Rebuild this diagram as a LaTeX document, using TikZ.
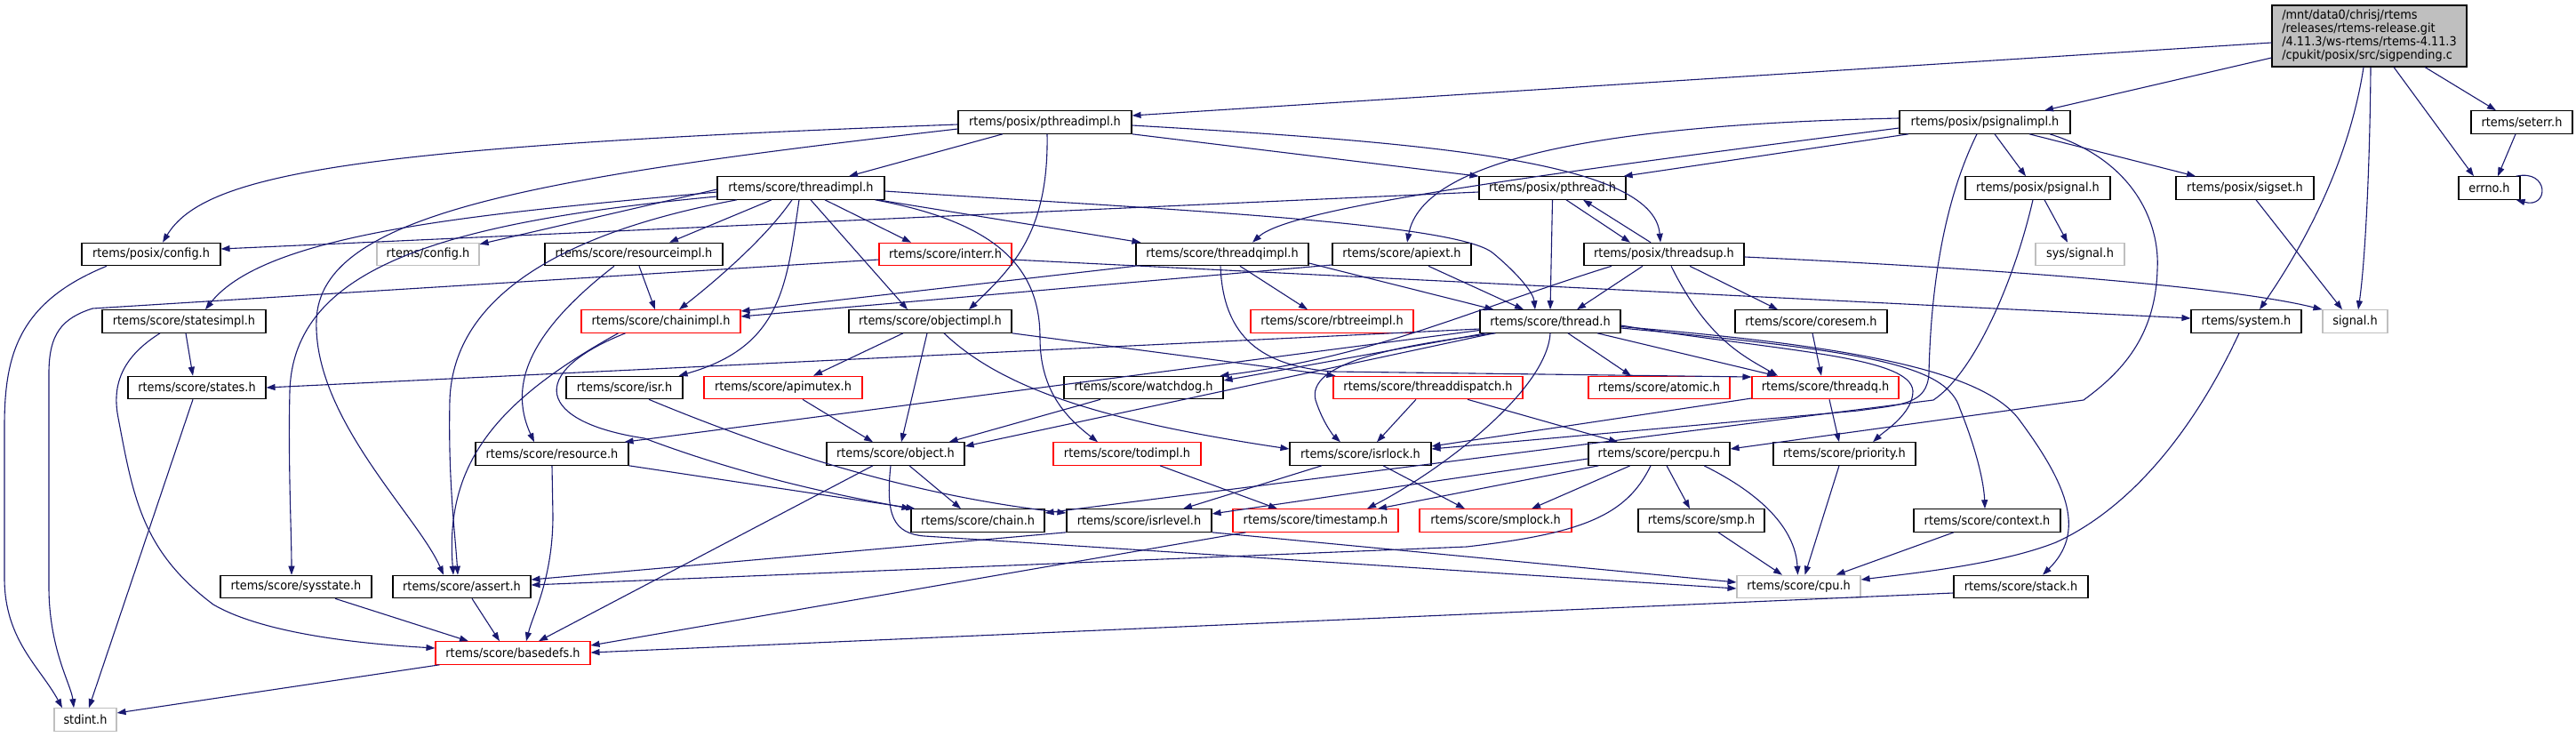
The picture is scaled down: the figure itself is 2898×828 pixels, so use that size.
\documentclass[tikz,border=0pt]{standalone}
\usepackage{fontspec}
\setmainfont{DejaVu Sans}[FakeStretch=0.92]
\usetikzlibrary{arrows.meta}
\definecolor{edgec}{HTML}{191970}
\definecolor{redc}{HTML}{FF0000}
\definecolor{grayc}{HTML}{BFBFBF}
\newcommand\nb[6]{\node[#1, minimum width=#4pt] (#2) at (#5,#6) {#3};}
\begin{document}
\begin{tikzpicture}[x=1pt,y=-1pt,
  box/.style={draw=black, line width=1.1pt, fill=white, inner sep=0pt, minimum height=25.5pt, font=\fontsize{14}{15}\selectfont, text=black},
  rbox/.style={box, draw=redc},
  gbox/.style={box, draw=grayc},
  e/.style={draw=edgec, line width=1.1pt, -{Triangle[length=10pt,width=7pt]}}]
\useasboundingbox[fill=white] (0,0) rectangle (2898,828);
% nodes
\node[box, fill=grayc, minimum width=219pt, minimum height=69pt, align=left] (main) at (2665.5,40.5) {/mnt/data0/chrisj/rtems\\/releases/rtems-release.git\\/4.11.3/ws-rtems/rtems-4.11.3\\/cpukit/posix/src/sigpending.c};
\nb{box}{pthreadimpl}{rtems/posix/pthreadimpl.h}{195}{1175.5}{137.5}
\nb{box}{psignalimpl}{rtems/posix/psignalimpl.h}{192}{2233}{137.5}
\nb{box}{seterr}{rtems/seterr.h}{114}{2837}{137.5}
\nb{box}{threadimpl}{rtems/score/threadimpl.h}{188}{901}{211.5}
\nb{box}{pthread}{rtems/posix/pthread.h}{165}{1746.5}{211.5}
\nb{box}{psignal}{rtems/posix/psignal.h}{163}{2292.5}{211.5}
\nb{box}{sigset}{rtems/posix/sigset.h}{155}{2525.5}{211.5}
\nb{box}{errno}{errno.h}{69}{2800.5}{211.5}
\nb{box}{posixconfig}{rtems/posix/config.h}{156}{170}{286}
\nb{gbox}{config}{rtems/config.h}{115}{481.5}{286}
\nb{box}{resourceimpl}{rtems/score/resourceimpl.h}{200}{713}{286}
\nb{rbox}{interr}{rtems/score/interr.h}{149}{1063.5}{286}
\nb{box}{threadqimpl}{rtems/score/threadqimpl.h}{194}{1375}{286}
\nb{box}{apiext}{rtems/score/apiext.h}{156}{1577}{286}
\nb{box}{threadsup}{rtems/posix/threadsup.h}{180}{1872}{286}
\nb{gbox}{syssignal}{sys/signal.h}{100}{2340}{286}
\nb{box}{statesimpl}{rtems/score/statesimpl.h}{184}{207}{361.5}
\nb{rbox}{chainimpl}{rtems/score/chainimpl.h}{179}{743.5}{361.5}
\nb{box}{objectimpl}{rtems/score/objectimpl.h}{183}{1046.5}{361.5}
\nb{rbox}{rbtreeimpl}{rtems/score/rbtreeimpl.h}{183}{1498.5}{361.5}
\nb{box}{thread}{rtems/score/thread.h}{158}{1744}{361.5}
\nb{box}{coresem}{rtems/score/coresem.h}{171}{2037.5}{361.5}
\nb{box}{system}{rtems/system.h}{124}{2527}{361.5}
\nb{gbox}{signal}{signal.h}{73}{2649.5}{361.5}
\nb{box}{states}{rtems/score/states.h}{155}{221.5}{436}
\nb{box}{isr}{rtems/score/isr.h}{131}{702.5}{436}
\nb{rbox}{apimutex}{rtems/score/apimutex.h}{178}{881}{436}
\nb{box}{watchdog}{rtems/score/watchdog.h}{179}{1286.5}{436}
\nb{rbox}{threaddispatch}{rtems/score/threaddispatch.h}{213}{1606.5}{436}
\nb{rbox}{atomic}{rtems/score/atomic.h}{159}{1866.5}{436}
\nb{rbox}{threadq}{rtems/score/threadq.h}{165}{2053.5}{436}
\nb{box}{resource}{rtems/score/resource.h}{172}{621}{510.5}
\nb{box}{object}{rtems/score/object.h}{155}{1007.5}{510.5}
\nb{rbox}{todimpl}{rtems/score/todimpl.h}{166}{1268}{510.5}
\nb{box}{isrlock}{rtems/score/isrlock.h}{159}{1530.5}{510.5}
\nb{box}{percpu}{rtems/score/percpu.h}{159}{1866.5}{510.5}
\nb{box}{priority}{rtems/score/priority.h}{160}{2075}{510.5}
\nb{box}{chain}{rtems/score/chain.h}{150}{1100}{585.5}
\nb{box}{isrlevel}{rtems/score/isrlevel.h}{163}{1281.5}{585.5}
\nb{rbox}{timestamp}{rtems/score/timestamp.h}{186}{1480}{585.5}
\nb{rbox}{smplock}{rtems/score/smplock.h}{171}{1682.5}{585.5}
\nb{box}{smp}{rtems/score/smp.h}{142}{1914}{585.5}
\nb{box}{context}{rtems/score/context.h}{165}{2235.5}{585.5}
\nb{box}{sysstate}{rtems/score/sysstate.h}{170}{333}{660}
\nb{box}{assert}{rtems/score/assert.h}{155}{519.5}{660}
\nb{gbox}{cpu}{rtems/score/cpu.h}{139}{2023.5}{660}
\nb{box}{stack}{rtems/score/stack.h}{151}{2273.5}{660}
\nb{rbox}{basedefs}{rtems/score/basedefs.h}{174}{577}{734.5}
\nb{gbox}{stdint}{stdint.h}{70}{96}{809.5}
% edges: main
\draw[e] ([yshift=-7.5pt]main.west) -- ([yshift=7.5pt]pthreadimpl.east);
\draw[e] ([yshift=-24.5pt]main.west) -- ([xshift=67pt]psignalimpl.north);
\draw[e] ([xshift=-6.5pt]main.south) .. controls (2640,200) and (2575,300) .. ([xshift=15pt]system.north);
\draw[e] ([xshift=1.5pt]main.south) .. controls (2666,200) and (2660,300) .. ([xshift=3.5pt]signal.north);
\draw[e] ([xshift=27.5pt]main.south) -- ([xshift=-17.5pt]errno.north);
\draw[e] ([xshift=62.5pt]main.south) -- ([xshift=-29pt]seterr.north);
\draw[e] ([xshift=-7pt]seterr.south) -- ([xshift=9.5pt]errno.north);
\draw[e] ([xshift=-5pt]errno.north east) .. controls (2868,190) and (2868,235) .. ([xshift=-5pt]errno.south east);
% pthreadimpl
\draw[e] ([yshift=-2.5pt]pthreadimpl.west) .. controls (400,165) and (230,195) .. ([xshift=13pt]posixconfig.north);
\draw[e] ([xshift=-47.5pt]pthreadimpl.south) -- ([xshift=54pt]threadimpl.north);
\draw[e] ([xshift=2.5pt]pthreadimpl.south) .. controls (1180,260) and (1140,300) .. ([xshift=43.5pt]objectimpl.north);
\draw[e] (pthreadimpl.south east) -- (pthread.north west);
\draw[e] ([yshift=-3.5pt]pthreadimpl.east) .. controls (1600,160) and (1860,180) .. ([xshift=-4pt]threadsup.north);
\draw[e] ([yshift=-7.5pt]pthreadimpl.west) .. controls (600,200) and (360,240) .. (356,360) .. controls (352,470) and (470,580) .. ([xshift=-20.5pt]assert.north);
% psignalimpl
\draw[e] ([yshift=4.5pt]psignalimpl.west) .. controls (1800,140) and (1600,180) .. ([xshift=6pt]apiext.north);
\draw[e] ([yshift=-6.5pt]psignalimpl.west) .. controls (1700,200) and (1450,235) .. ([xshift=34pt]threadqimpl.north);
\draw[e] ([xshift=-86pt]psignalimpl.south) -- ([xshift=-3pt]pthread.north east);
\draw[e] ([xshift=11pt]psignalimpl.south) -- ([xshift=-13.5pt]psignal.north);
\draw[e] ([xshift=50pt]psignalimpl.south) -- ([xshift=-55.5pt]sigset.north);
\draw[e] ([xshift=-9pt]psignalimpl.south) .. controls (2185,230) and (2172,330) .. (2170,420) .. controls (2168,455) and (2140,455) .. (2090,462) -- ([yshift=5.5pt]isrlock.east);
\draw[e] ([xshift=73pt]psignalimpl.south) .. controls (2400,180) and (2430,250) .. (2427,303) .. controls (2425,380) and (2385,420) .. (2344,450) -- ([yshift=5.5pt]percpu.east);
% psignal, sigset
\draw[e] ([xshift=7.5pt]psignal.south) -- ([xshift=-14pt]syssignal.north);
\draw[e] ([xshift=-5.5pt]psignal.south) .. controls (2265,320) and (2220,420) .. (2175,450) -- ([yshift=8.5pt]chain.east);
\draw[e] ([xshift=12.5pt]sigset.south) -- ([xshift=-14.5pt]signal.north);
% pthread
\draw[e] ([yshift=-4.5pt]pthread.west) -- ([yshift=6pt]posixconfig.east);
\draw[e] ([xshift=15.5pt]pthread.south) -- ([xshift=-38pt]threadsup.north);
\draw[e] ([xshift=-15pt]threadsup.north) -- ([xshift=34.5pt]pthread.south);
\draw[e] (pthread.south) -- (thread.north);
% threadsup
\draw[e] ([xshift=-24pt]threadsup.south) -- ([xshift=30pt]thread.north);
\draw[e] ([xshift=29pt]threadsup.south) -- ([xshift=-37.5pt]coresem.north);
\draw[e] ([xshift=8pt]threadsup.south) .. controls (1920,380) and (1960,400) .. ([xshift=-53.5pt]threadq.north);
\draw[e] ([yshift=-3pt]threadsup.east) .. controls (2200,300) and (2500,320) .. (signal.north west);
\draw[e] ([xshift=-59pt]threadsup.south) .. controls (1650,350) and (1550,400) .. ([xshift=-4pt]watchdog.north east);
% threadimpl
\draw[e] ([yshift=-4.5pt]threadimpl.west) .. controls (550,240) and (300,260) .. ([xshift=24pt]statesimpl.north);
\draw[e] ([yshift=-9.5pt]threadimpl.west) .. controls (500,250) and (330,300) .. (326,440) .. controls (324,520) and (328,600) .. ([xshift=-5pt]sysstate.north);
\draw[e] ([xshift=-72pt]threadimpl.south) .. controls (640,260) and (510,330) .. (506,450) .. controls (504,540) and (512,600) .. ([xshift=-4.5pt]assert.north);
\draw[e] ([yshift=-1.5pt]threadimpl.west) -- ([yshift=-2pt]config.north east);
\draw[e] ([xshift=-33pt]threadimpl.south) -- ([xshift=40pt]resourceimpl.north);
\draw[e] ([xshift=-10pt]threadimpl.south) .. controls (860,270) and (800,320) .. ([xshift=20.5pt]chainimpl.north);
\draw[e] ([xshift=-2pt]threadimpl.south) .. controls (885,320) and (880,390) .. ([xshift=-5pt]isr.north east);
\draw[e] ([xshift=11pt]threadimpl.south) -- ([xshift=-25.5pt]objectimpl.north);
\draw[e] ([xshift=27pt]threadimpl.south) -- ([xshift=-38.5pt]interr.north);
\draw[e] ([xshift=-11pt]threadimpl.south east) .. controls (1120,250) and (1170,300) .. (1170,380) .. controls (1170,440) and (1200,470) .. ([xshift=-33pt]todimpl.north);
\draw[e] ([xshift=-8pt]threadimpl.south east) -- ([xshift=6pt]threadqimpl.north west);
\draw[e] ([yshift=-3.5pt]threadimpl.east) .. controls (1300,235) and (1640,250) .. (1680,285) .. controls (1710,310) and (1725,330) .. ([xshift=-17pt]thread.north);
% posix config, interr
\draw[e] ([xshift=-50pt]posixconfig.south) .. controls (20,340) and (5,400) .. (5,480) -- (5,650) .. controls (5,720) and (45,750) .. ([xshift=-26pt]stdint.north);
\draw[e] ([yshift=-6pt]interr.west) -- (104,347) .. controls (70,358) and (55,375) .. (55,420) -- (55,660) .. controls (55,730) and (80,770) .. ([xshift=-13pt]stdint.north);
\draw[e] ([yshift=-6pt]interr.east) -- ([yshift=3.5pt]system.west);
% resourceimpl
\draw[e] ([xshift=-22pt]resourceimpl.south) .. controls (600,370) and (570,430) .. ([xshift=-20pt]resource.north);
\draw[e] ([xshift=6pt]resourceimpl.south) -- ([xshift=-6.5pt]chainimpl.north);
% threadqimpl
\draw[e] (threadqimpl.south west) -- ([yshift=11.5pt]chainimpl.east);
\draw[e] ([xshift=20pt]threadqimpl.south) -- ([xshift=-27.5pt]rbtreeimpl.north);
\draw[e] ([yshift=-10pt]threadqimpl.east) -- ([xshift=16pt]thread.north west);
\draw[e] ([xshift=-2pt]threadqimpl.south) .. controls (1376,380) and (1420,412) .. (1500,418) -- ([yshift=12pt]threadq.west);
% apiext
\draw[e] ([yshift=-12pt]apiext.west) -- ([yshift=5.5pt]chainimpl.east);
\draw[e] ([xshift=30pt]apiext.south) -- ([xshift=-30pt]thread.north);
% statesimpl, states
\draw[e] ([xshift=2pt]statesimpl.south) -- ([xshift=-4.5pt]states.north);
\draw[e] ([xshift=-27pt]statesimpl.south) .. controls (140,400) and (125,430) .. (133,470) .. controls (150,560) and (160,620) .. (240,680) .. controls (300,715) and (420,725) .. ([yshift=5.5pt]basedefs.west);
\draw[e] ([xshift=-4.5pt]states.south) -- ([xshift=4pt]stdint.north);
% chainimpl
\draw[e] ([xshift=-40pt]chainimpl.south) .. controls (590,420) and (605,475) .. (725,493) .. controls (850,540) and (960,560) .. (chain.north west);
\draw[e] ([xshift=-48pt]chainimpl.south) .. controls (560,450) and (500,520) .. ([xshift=-9.5pt]assert.north);
% thread
\draw[e] ([yshift=-8.5pt]thread.west) -- (states.east);
\draw[e] ([yshift=-10pt]thread.west) -- ([xshift=-5pt]resource.north east);
\draw[e] ([xshift=7pt]thread.south west) -- ([yshift=8pt]watchdog.east);
\draw[e] ([xshift=16pt]thread.south west) -- ([yshift=8.5pt]object.east);
\draw[e] ([xshift=18pt]thread.south west) .. controls (1560,390) and (1470,410) .. (1480,450) .. controls (1488,475) and (1500,490) .. ([xshift=-22.5pt]isrlock.north);
\draw[e] ([xshift=20pt]thread.south) -- ([xshift=-31.5pt]atomic.north);
\draw[e] ([xshift=53pt]thread.south) -- ([xshift=-55.5pt]threadq.north);
\draw[e] ([yshift=-4.5pt]thread.east) .. controls (2000,395) and (2150,400) .. (2152,440) .. controls (2152,465) and (2120,485) .. ([xshift=32pt]priority.north);
\draw[e] ([yshift=-7.5pt]thread.east) .. controls (2100,395) and (2190,410) .. (2205,460) .. controls (2225,510) and (2232,545) .. ([xshift=-2.5pt]context.north);
\draw[e] ([yshift=-6pt]thread.east) .. controls (2100,390) and (2230,420) .. (2270,470) .. controls (2330,550) and (2345,600) .. ([xshift=24.5pt]stack.north);
\draw[e] (thread.south) .. controls (1740,440) and (1620,530) .. ([xshift=58pt]timestamp.north);
% coresem, system, isr
\draw[e] ([xshift=1.5pt]coresem.south) -- ([xshift=-4.5pt]threadq.north);
\draw[e] ([xshift=-8pt]system.south) .. controls (2470,480) and (2400,570) .. (2313,610) .. controls (2250,635) and (2150,645) .. ([yshift=8pt]cpu.east);
\draw[e] ([xshift=27.5pt]isr.south) .. controls (900,520) and (1050,560) .. ([yshift=8.5pt]isrlevel.west);
% objectimpl, apimutex, watchdog
\draw[e] ([xshift=22pt]apimutex.south) -- ([xshift=-25.5pt]object.north);
\draw[e] ([xshift=-30.5pt]objectimpl.south) -- ([xshift=34pt]apimutex.north);
\draw[e] ([xshift=-3.5pt]objectimpl.south) -- ([xshift=6.5pt]object.north);
\draw[e] ([xshift=15.5pt]objectimpl.south) .. controls (1130,440) and (1250,475) .. ([yshift=5.5pt]isrlock.west);
\draw[e] (objectimpl.south east) -- ([xshift=3pt]threaddispatch.north west);
\draw[e] ([xshift=-48.5pt]watchdog.south) -- ([xshift=-18pt]object.north east);
% threaddispatch, threadq
\draw[e] ([xshift=-13.5pt]threaddispatch.south) -- ([xshift=18.5pt]isrlock.north);
\draw[e] ([xshift=44.5pt]threaddispatch.south) -- ([xshift=-46.5pt]percpu.north);
\draw[e] ([yshift=-12pt]threadq.west) -- ([yshift=8.5pt]isrlock.east);
\draw[e] ([xshift=4.5pt]threadq.south) -- ([xshift=-6pt]priority.north);
% resource, object, todimpl
\draw[e] (resource.south east) -- ([xshift=5pt]chain.north west);
\draw[e] (resource.south) -- (622,580) .. controls (622,650) and (600,690) .. ([xshift=15pt]basedefs.north);
\draw[e] ([xshift=15.5pt]object.south) -- ([xshift=-19pt]chain.north);
\draw[e] ([xshift=-25.5pt]object.south) -- ([xshift=29pt]basedefs.north);
\draw[e] ([xshift=-5.5pt]object.south) .. controls (996,580) and (1005,600) .. (1040,603) -- ([yshift=-2pt]cpu.west);
\draw[e] ([xshift=37pt]todimpl.south) -- ([xshift=-43pt]timestamp.north);
% isrlock, percpu
\draw[e] ([xshift=-43.5pt]isrlock.south) -- ([xshift=49.5pt]isrlevel.north);
\draw[e] ([xshift=25.5pt]isrlock.south) -- ([xshift=-34.5pt]smplock.north);
\draw[e] ([yshift=-5.5pt]percpu.west) -- ([yshift=7.5pt]isrlevel.east);
\draw[e] ([xshift=12pt]percpu.south west) -- ([xshift=70pt]timestamp.north);
\draw[e] ([xshift=-32.5pt]percpu.south) -- ([xshift=40.5pt]smplock.north);
\draw[e] ([xshift=8.5pt]percpu.south) -- ([xshift=-13pt]smp.north);
\draw[e] ([xshift=50.5pt]percpu.south) .. controls (1990,560) and (2020,600) .. ([xshift=-1pt]cpu.north);
\draw[e] ([xshift=-9.5pt]percpu.south) .. controls (1830,580) and (1780,600) .. (1650,615) -- ([yshift=2pt]assert.east);
% priority, smp, context
\draw[e] ([xshift=-6pt]priority.south) -- ([xshift=7pt]cpu.north);
\draw[e] ([xshift=19pt]smp.south) -- ([xshift=-18.5pt]cpu.north);
\draw[e] ([xshift=-37.5pt]context.south) -- ([xshift=-28pt]cpu.north east);
% isrlevel, timestamp, stack, sysstate, assert, basedefs
\draw[e] (isrlevel.south west) -- ([yshift=8pt]assert.east);
\draw[e] (isrlevel.south east) -- ([yshift=5pt]cpu.west);
\draw[e] ([xshift=15pt]timestamp.south west) -- ([yshift=8.5pt]basedefs.east);
\draw[e] ([yshift=-7pt]stack.west) -- ([yshift=0.5pt]basedefs.east);
\draw[e] ([xshift=44pt]sysstate.south) -- ([xshift=-50pt]basedefs.north);
\draw[e] ([xshift=11.5pt]assert.south) -- ([xshift=-15pt]basedefs.north);
\draw[e] ([xshift=5pt]basedefs.south west) -- ([yshift=7.5pt]stdint.east);
\end{tikzpicture}
\end{document}
